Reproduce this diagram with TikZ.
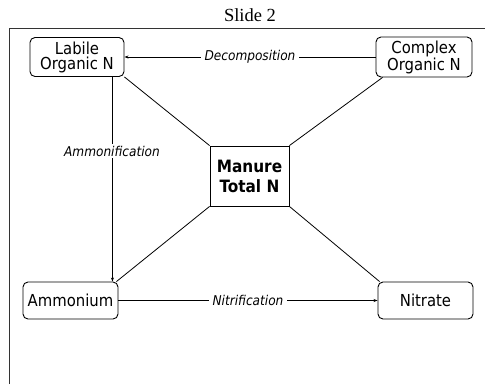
\documentclass[tikz,border=0pt]{standalone}
\usepackage{fontspec}
\setmainfont{DejaVu Sans Condensed}
\newfontfamily\titlefont{Liberation Serif}
\usetikzlibrary{arrows.meta}
\begin{document}
\begin{tikzpicture}[x=1pt,y=-1pt,
  pool/.style={draw, rounded corners=5pt, line width=0.9pt, align=center,
    font=\fontsize{16.5}{15}\selectfont, inner sep=0pt},
  hub/.style={draw, line width=0.9pt, align=center,
    font=\bfseries\fontsize{17}{20}\selectfont, inner sep=0pt},
  flow/.style={line width=0.8pt, -{Stealth[length=4pt,width=3pt]}},
  link/.style={line width=0.8pt},
  lbl/.style={fill=white, font=\itshape\fontsize{13.5}{15}\selectfont, inner xsep=4pt, inner ysep=2pt}]
  \useasboundingbox (0,0) rectangle (485,384);
  % slide frame
  \draw[line width=0.6pt, black!80] (9,384) -- (9,28) -- (485,28);
  \node[font=\titlefont\fontsize{18.5}{20}\selectfont, anchor=base] (title) at (250,21.5) {Slide 2};
  % pools
  \node[pool, minimum width=94pt, minimum height=39pt] (lab) at (77,57) {Labile\\Organic N};
  \node[pool, minimum width=96pt, minimum height=40pt] (cpx) at (424,57) {Complex\\Organic N};
  \node[hub, minimum width=79pt, minimum height=60pt] (man) at (249.5,176) {Manure\\Total N};
  \node[pool, minimum width=95pt, minimum height=37pt] (amm) at (70.5,300.5) {Ammonium};
  \node[pool, minimum width=95pt, minimum height=37pt] (nit) at (425.5,300.5) {Nitrate};
  % links from the manure pool
  \draw[link] (man.north west) -- (lab.south east);
  \draw[link] (man.north east) -- ([xshift=7pt]cpx.south west);
  \draw[link] (man.south west) -- ([xshift=-2pt]amm.north east);
  \draw[link] (man.south east) -- ([xshift=2pt]nit.north west);
  % transformations
  \draw[flow] (cpx.west) -- node[lbl] (dec) {Decomposition} (lab.east);
  \draw[flow] ([xshift=-12pt]lab.south east) -- ([xshift=-12pt]lab.south east |- amm.north);
  \node[lbl] (amf) at (112,151) {Ammonification};
  \draw[flow] (amm.east) -- node[lbl] (ntr) {Nitrification} (nit.west);
\end{tikzpicture}
\end{document}
